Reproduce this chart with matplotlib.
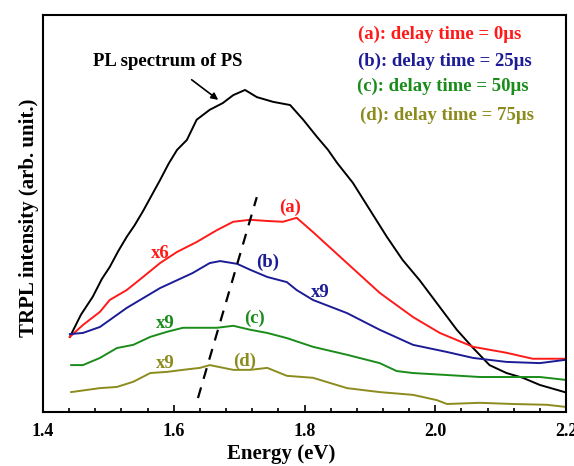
import numpy as np
import matplotlib
matplotlib.use("Agg")
import matplotlib.pyplot as plt
from matplotlib.ticker import MultipleLocator

# --- data (energy in eV, intensity in arb. unit) ---
ps_e = [1.441, 1.458, 1.476, 1.490, 1.502, 1.515, 1.528, 1.540, 1.553, 1.566,
        1.579, 1.592, 1.605, 1.620, 1.635, 1.655, 1.675, 1.691, 1.709, 1.727,
        1.752, 1.778, 1.798, 1.819, 1.836, 1.850, 1.874, 1.900, 1.926, 1.950,
        1.976, 2.007, 2.033, 2.058, 2.083, 2.109, 2.134, 2.160, 2.198]
ps_i = [0.189, 0.245, 0.290, 0.335, 0.365, 0.405, 0.441, 0.470, 0.506, 0.545,
        0.584, 0.625, 0.660, 0.685, 0.736, 0.761, 0.778, 0.798, 0.811, 0.793,
        0.781, 0.773, 0.736, 0.693, 0.660, 0.627, 0.577, 0.509, 0.441, 0.383,
        0.332, 0.264, 0.207, 0.161, 0.118, 0.098, 0.086, 0.068, 0.050]

a_e = [1.441, 1.461, 1.487, 1.502, 1.528, 1.553, 1.579, 1.605, 1.635, 1.666,
       1.691, 1.717, 1.743, 1.767, 1.788, 1.813, 1.865, 1.915, 1.966, 2.007,
       2.058, 2.109, 2.149, 2.198]
a_i = [0.189, 0.219, 0.252, 0.282, 0.307, 0.340, 0.375, 0.403, 0.428, 0.458,
       0.479, 0.484, 0.481, 0.479, 0.489, 0.453, 0.375, 0.300, 0.239, 0.199,
       0.164, 0.149, 0.134, 0.134]

b_e = [1.441, 1.461, 1.487, 1.528, 1.579, 1.629, 1.655, 1.671, 1.697, 1.717,
       1.743, 1.773, 1.788, 1.813, 1.865, 1.915, 1.966, 2.018, 2.058, 2.109,
       2.160, 2.198]
b_i = [0.196, 0.199, 0.214, 0.262, 0.312, 0.350, 0.375, 0.380, 0.373, 0.358,
       0.340, 0.327, 0.307, 0.282, 0.249, 0.207, 0.169, 0.151, 0.136, 0.126,
       0.123, 0.131]

c_e = [1.443, 1.461, 1.487, 1.513, 1.538, 1.564, 1.590, 1.614, 1.640, 1.666,
       1.691, 1.717, 1.743, 1.773, 1.813, 1.865, 1.915, 1.941, 1.966, 2.018,
       2.068, 2.119, 2.160, 2.198]
c_i = [0.118, 0.118, 0.136, 0.161, 0.169, 0.189, 0.202, 0.212, 0.212, 0.212,
       0.217, 0.207, 0.199, 0.186, 0.164, 0.144, 0.123, 0.103, 0.098, 0.093,
       0.088, 0.088, 0.088, 0.081]

d_e = [1.443, 1.487, 1.513, 1.538, 1.564, 1.590, 1.614, 1.640, 1.655, 1.691,
       1.717, 1.743, 1.773, 1.813, 1.865, 1.915, 1.966, 2.002, 2.018, 2.068,
       2.119, 2.171, 2.198]
d_i = [0.050, 0.060, 0.063, 0.076, 0.098, 0.101, 0.106, 0.111, 0.118, 0.106,
       0.106, 0.111, 0.091, 0.086, 0.060, 0.050, 0.043, 0.030, 0.020, 0.023,
       0.020, 0.018, 0.013]

legend_lines = ["(a): delay time = 0\u03bcs", "(b): delay time = 25\u03bcs",
                "(c): delay time = 50\u03bcs", "(d): delay time = 75\u03bcs"]

RED = "#ff1a1a"
BLUE = "#1c1c96"
GREEN = "#1a8c1a"
OLIVE = "#8c8c1e"

plt.rcParams['font.family'] = ['Liberation Serif', 'DejaVu Serif']
plt.rcParams['font.weight'] = 'bold'

fig = plt.figure(figsize=(5.74, 4.66), dpi=100)
ax = fig.add_axes([0.075, 0.116, 0.911, 0.852])

ax.plot(ps_e, ps_i, color='black', lw=1.4)
ax.plot(a_e, a_i, color=RED, lw=1.4)
ax.plot(b_e, b_i, color=BLUE, lw=1.4)
ax.plot(c_e, c_i, color=GREEN, lw=1.4)
ax.plot(d_e, d_i, color=OLIVE, lw=1.4)

# dashed guide through the peaks
ax.plot([1.637, 1.727], [0.035, 0.541], color='black', lw=1.6, ls=(0, (5, 4)))

ax.set_xlim(1.4, 2.2)
ax.set_ylim(0, 1)
ax.xaxis.set_major_locator(MultipleLocator(0.2))
ax.xaxis.set_minor_locator(MultipleLocator(0.04))
ax.tick_params(axis='x', which='both', direction='in', top=False, labelsize=13, pad=8)
ax.tick_params(axis='x', which='major', length=5, width=1.2)
ax.tick_params(axis='x', which='minor', length=3, width=1.2)
ax.set_xticklabels([f"{v:.1f}" for v in ax.get_xticks()], fontweight='bold')
ax.set_yticks([])
for s in ax.spines.values():
    s.set_linewidth(1.5)

ax.set_xlabel("Energy (eV)", fontsize=15, fontweight='bold', labelpad=3, x=0.455)
ax.set_ylabel("TRPL intensity (arb. unit.)", fontsize=15, fontweight='bold', labelpad=3, y=0.49)

# annotations
ax.annotate("PL spectrum of PS", xy=(1.668, 0.786), xytext=(1.591, 0.882),
            ha='center', va='center', fontsize=13.5, fontweight='bold',
            arrowprops=dict(arrowstyle='-|>', color='black', lw=1.2,
                            shrinkA=8, shrinkB=0, mutation_scale=10))

colors = [RED, BLUE, GREEN, OLIVE]
leg_x = [1.882, 1.882, 1.880, 1.885]
leg_y = [0.950, 0.882, 0.819, 0.748]
for txt, c, lx, ly in zip(legend_lines, colors, leg_x, leg_y):
    ax.text(lx, ly, txt, color=c, fontsize=13.5, fontweight='bold', ha='left', va='center')

fs = 13.5
ax.text(1.778, 0.516, "(a)", color=RED, fontsize=fs, fontweight='bold', ha='center', va='center')
ax.text(1.579, 0.400, "x6", color=RED, fontsize=fs, fontweight='bold', ha='center', va='center')
ax.text(1.743, 0.378, "(b)", color=BLUE, fontsize=fs, fontweight='bold', ha='center', va='center')
ax.text(1.824, 0.302, "x9", color=BLUE, fontsize=fs, fontweight='bold', ha='center', va='center')
ax.text(1.587, 0.224, "x9", color=GREEN, fontsize=fs, fontweight='bold', ha='center', va='center')
ax.text(1.724, 0.237, "(c)", color=GREEN, fontsize=fs, fontweight='bold', ha='center', va='center')
ax.text(1.587, 0.123, "x9", color=OLIVE, fontsize=fs, fontweight='bold', ha='center', va='center')
ax.text(1.709, 0.128, "(d)", color=OLIVE, fontsize=fs, fontweight='bold', ha='center', va='center')

fig.savefig("out.png", dpi=100)
